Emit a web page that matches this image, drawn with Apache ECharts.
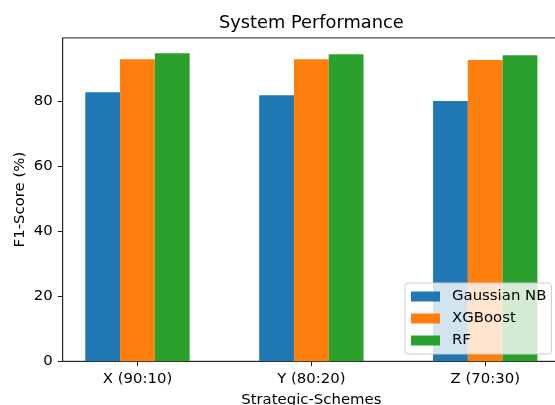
<!DOCTYPE html>
<html>
<head>
<meta charset="utf-8">
<script src="https://cdn.jsdelivr.net/npm/echarts@6/dist/echarts.min.js"></script>
<style>
  html, body { margin: 0; padding: 0; background: #fff; }
  #chart { width: 555px; height: 405px; }
</style>
</head>
<body>
<div id="chart"></div>
<script>
// chart data
var categories = ['X (90:10)', 'Y (80:20)', 'Z (70:30)'];
var seriesNames = ['Gaussian NB', 'XGBoost', 'RF'];
var gaussianNB = [82.7, 81.8, 80.0];
var xgboost = [92.8, 92.8, 92.6];
var rf = [94.65, 94.4, 94.1];
var yTicks = [0, 20, 40, 60, 80];

var colors = ['#1f77b4', '#ff7f0e', '#2ca02c'];
var barW = 0.2;           // bar width in axis units, like matplotlib
var font = 'DejaVu Sans';

function makeSeries(name, values, shift, color) {
	return {
		name: name,
		type: 'bar',
		barWidth: 34.8,
		barGap: '-100%',
		itemStyle: { color: color },
		data: values.map(function(v, i) { return [i + shift, v]; })
	};
}

var myChart = echarts.init(document.getElementById('chart'), null, { renderer: 'canvas' });
var option = {
	animation: false,
	title: {
		text: 'System Performance',
		left: 219,
		top: 14,
		padding: 0,
		textStyle: { fontFamily: font, fontSize: 17.8, fontWeight: 'normal', color: '#000' }
	},
	legend: {
		data: seriesNames,
		orient: 'vertical',
		left: 405,
		top: 283,
		padding: [5, 5, 5, 6],
		itemWidth: 29,
		itemHeight: 10,
		itemGap: 5,
		icon: 'rect',
		backgroundColor: 'rgba(255,255,255,0.8)',
		borderColor: '#cccccc',
		borderWidth: 1,
		borderRadius: 3,
		textStyle: { fontFamily: font, fontSize: 14.9, lineHeight: 17, color: '#000', padding: [0, 0, 0, 7] }
	},
	grid: {
		left: 62.7,
		top: 37.9,
		right: -5,
		bottom: 43.7,
		show: true,
		borderColor: '#222',
		borderWidth: 1,
		containLabel: false,
		outerBoundsMode: 'none'
	},
	xAxis: {
		type: 'value',
		min: -0.43,
		max: 2.43,
		name: 'Strategic-Schemes',
		nameLocation: 'middle',
		nameGap: 31,
		nameMoveOverlap: false,
		nameTextStyle: { fontFamily: font, fontSize: 14.9, color: '#000' },
		axisLine: { show: true, onZero: false, lineStyle: { color: '#222', width: 1 } },
		axisTick: { show: true, length: 5, lineStyle: { color: '#222' }, customValues: [0, 1, 2] },
		axisLabel: {
			customValues: [0, 1, 2],
			margin: 10,
			fontFamily: font, fontSize: 14.9, color: '#000',
			formatter: function(v) { return categories[Math.round(v)]; }
		},
		splitLine: { show: false }
	},
	yAxis: {
		type: 'value',
		min: 0,
		max: 99.4,
		name: 'F1-Score (%)',
		nameLocation: 'middle',
		nameGap: 35,
		nameMoveOverlap: false,
		nameTextStyle: { fontFamily: font, fontSize: 14.9, color: '#000' },
		axisLine: { show: true, onZero: false, lineStyle: { color: '#222', width: 1 } },
		axisTick: { show: true, length: 5, lineStyle: { color: '#222' }, customValues: yTicks },
		axisLabel: { customValues: yTicks, margin: 10, fontFamily: font, fontSize: 14.9, color: '#000' },
		splitLine: { show: false }
	},
	series: [
		makeSeries(seriesNames[0], gaussianNB, -barW, colors[0]),
		makeSeries(seriesNames[1], xgboost, 0, colors[1]),
		makeSeries(seriesNames[2], rf, barW, colors[2])
	]
};
myChart.setOption(option);
</script>
</body>
</html>
